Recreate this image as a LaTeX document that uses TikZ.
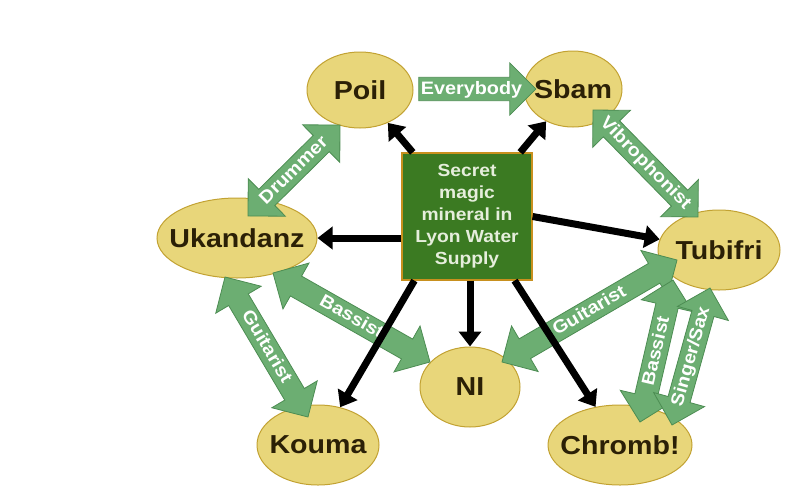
\documentclass[tikz,border=0pt]{standalone}
\usepackage{fontspec}
\setmainfont{Liberation Sans}[FakeStretch=1.1]
\usetikzlibrary{shapes.geometric,shapes.arrows,arrows.meta,calc}
\definecolor{ellfill}{HTML}{E8D67A}
\definecolor{elldraw}{HTML}{C2A232}
\definecolor{elltext}{HTML}{2B2006}
\definecolor{boxfill}{HTML}{3B7A22}
\definecolor{boxdraw}{HTML}{C8901E}
\definecolor{boxtext}{HTML}{E6EEDC}
\definecolor{arrfill}{HTML}{6CAE72}
\definecolor{arrdraw}{HTML}{4C8C52}
\tikzset{
  bandnode/.style={ellipse, fill=ellfill, draw=elldraw, line width=1pt, inner sep=0pt,
    text=elltext, font=\bfseries\fontsize{26}{27}\selectfont},
  mineralbox/.style={rectangle, fill=boxfill, draw=boxdraw, line width=1.2pt,
    minimum width=130pt, minimum height=127pt, align=center, text=boxtext,
    font=\bfseries\fontsize{17.5}{22}\selectfont, inner sep=0pt},
  linkbase/.style={fill=arrfill, draw=arrdraw, line width=0.8pt, text=white,
    font=\bfseries\fontsize{18}{18}\selectfont, text height=13.5pt, text depth=3.5pt,
    inner ysep=2.5pt, inner xsep=0pt, minimum width=52pt},
  dlink/.style={linkbase, double arrow, double arrow head extend=15pt, double arrow tip angle=90},
  slink/.style={linkbase, single arrow, single arrow head extend=14pt, single arrow tip angle=90},
  feedarrow/.style={line width=7pt, -{Triangle[length=15pt,width=22pt]}},
}
% band: name, x, y, width, height, label
\newcommand{\band}[6]{%
  \node[bandnode, minimum width=#4pt, minimum height=#5pt] (#1) at (#2,#3) {\makebox[0pt][c]{#6}};}
% style, from, to, label, name
\newcommand{\bandlink}[5]{%
  \path let \p1=($(#3)-(#2)$), \n1={atan2(\y1,\x1)}, \n2={veclen(\x1,\y1)} in
    node[#1, rotate=\n1, minimum height=\n2] (#5) at ($(#2)!0.5!(#3)$) {\makebox[0pt][c]{#4}};}
\begin{document}
\begin{tikzpicture}[x=1pt,y=-1pt]
\useasboundingbox (0,0) rectangle (800,501);
% bands
\band{poil}{360}{90}{106}{76}{Poil}
\band{sbam}{573}{89}{98}{76}{Sbam}
\band{uk}{237}{238}{160}{80}{Ukandanz}
\band{tub}{719}{250}{122}{80}{Tubifri}
\band{ni}{470}{387}{100}{80}{NI}
\band{kouma}{318}{445}{122}{80}{Kouma}
\band{chromb}{620}{445}{144}{80}{Chromb!}
% centre
\node[mineralbox] (box) at (467,216.5) {Secret\\magic\\mineral in\\Lyon Water\\Supply};
% green link ends
\coordinate (evA) at (413,89);  \coordinate (evB) at (530,89);
\coordinate (drA) at (248,216); \coordinate (drB) at (340,125);
\coordinate (viA) at (593,110); \coordinate (viB) at (698,217);
\coordinate (glA) at (225,277); \coordinate (glB) at (308,417);
\coordinate (blA) at (273,273); \coordinate (blB) at (430,362);
\coordinate (grA) at (502,362); \coordinate (grB) at (677,260);
\coordinate (brA) at (640,422); \coordinate (brB) at (673,280);
\coordinate (ssA) at (672,425); \coordinate (ssB) at (710,288);
% green links
\bandlink{slink}{evA}{evB}{Everybody}{everybody}
\bandlink{dlink}{drA}{drB}{Drummer}{drummer}
\bandlink{dlink}{viA}{viB}{Vibrophonist}{vibro}
\bandlink{dlink}{glA}{glB}{Guitarist}{guitarL}
\bandlink{dlink}{blA}{blB}{Bassist}{bassL}
\bandlink{dlink}{grA}{grB}{Guitarist}{guitarR}
\bandlink{dlink}{brA}{brB}{Bassist}{bassR}
\bandlink{dlink}{ssA}{ssB}{Singer/Sax}{singer}
% black feeds
\draw[feedarrow] (box) -- (poil);
\draw[feedarrow] (box) -- (sbam);
\draw[feedarrow] (box.west |- uk.east) -- (uk.east);
\draw[feedarrow] (box.east) -- (tub);
\draw[feedarrow] (box.south -| ni.north) -- (ni.north);
\draw[feedarrow] ([xshift=13pt]box.south west) -- (kouma);
\draw[feedarrow] ([xshift=-18pt]box.south east) -- (chromb);
\end{tikzpicture}
\end{document}
